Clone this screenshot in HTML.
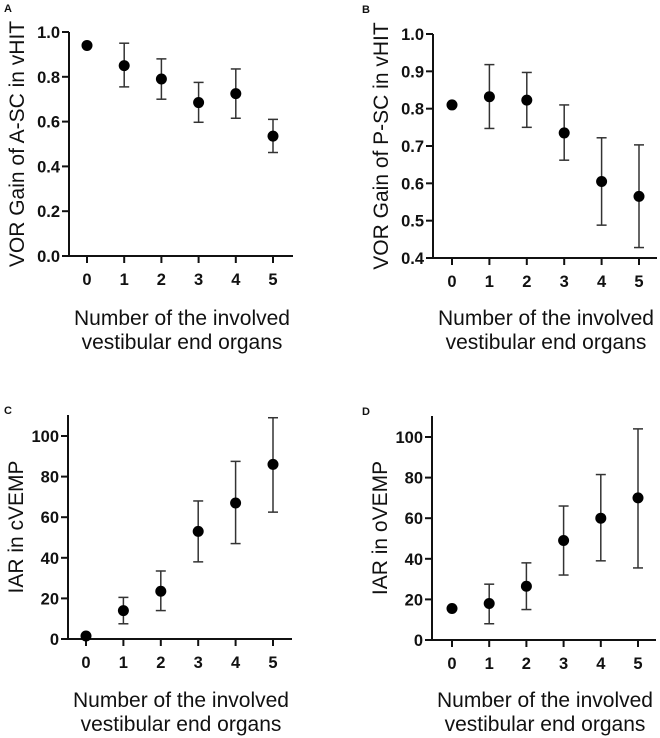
<!DOCTYPE html>
<html><head><meta charset="utf-8">
<style>
html,body{margin:0;padding:0;background:#fff;}
svg{display:block;font-family:"Liberation Sans",Arial,sans-serif;}
.tick{font-size:16.5px;font-weight:bold;fill:#111;}
.ttl{font-size:21px;fill:#111;}
.letter{font-size:11px;font-weight:bold;fill:#111;}
</style></head>
<body>
<svg id="fig" width="660" height="738" viewBox="0 0 660 738"></svg>
<script>
const categories = [0,1,2,3,4,5];
const meanA = [0.94,0.85,0.79,0.685,0.725,0.535];
const lowA  = [null,0.755,0.70,0.597,0.615,0.462];
const highA = [null,0.95,0.88,0.775,0.835,0.61];
const ticksA = [0,0.2,0.4,0.6,0.8,1.0];
const meanB = [0.81,0.832,0.823,0.735,0.605,0.565];
const lowB  = [null,0.747,0.75,0.662,0.488,0.428];
const highB = [null,0.918,0.897,0.81,0.722,0.703];
const ticksB = [0.4,0.5,0.6,0.7,0.8,0.9,1.0];
const meanC = [1.5,14,23.5,53,67,86];
const lowC  = [null,7.5,14,38,47,62.5];
const highC = [null,20.5,33.5,68,87.5,109];
const ticksC = [0,20,40,60,80,100];
const meanD = [15.5,18,26.5,49,60,70];
const lowD  = [null,8,15,32,39,35.5];
const highD = [null,27.5,38,66,81.5,104];
const ticksD = [0,20,40,60,80,100];

const NS="http://www.w3.org/2000/svg";
const svg=document.getElementById('fig');
function mk(tag,attrs,parent,text){const e=document.createElementNS(NS,tag);for(const k in attrs)e.setAttribute(k,attrs[k]);if(text!==undefined)e.textContent=text;(parent||svg).appendChild(e);return e;}

function panel(cfg){
  const g=mk('g',{});
  
  
  const y=v=>cfg.y0+(v-cfg.vmin)/(cfg.vmax-cfg.vmin)*(cfg.y1-cfg.y0);
  const x=i=>cfg.x0+(i)*(cfg.x5-cfg.x0)/5;
  const lt=mk('text',{x:cfg.lx,y:cfg.ly,class:'letter'},g,cfg.id.toUpperCase());
  
  
  const ya=mk('line',{x1:cfg.ax,y1:cfg.axTop,x2:cfg.ax,y2:y(cfg.vmin)+1,stroke:'#111','stroke-width':2},g);
  
  
  const xa=mk('line',{x1:cfg.ax-1,y1:y(cfg.vmin),x2:cfg.ax+224,y2:y(cfg.vmin),stroke:'#111','stroke-width':2},g);
  
  
  cfg.ticks.forEach(t=>{
    mk('line',{x1:cfg.ax-7,y1:y(t),x2:cfg.ax,y2:y(t),stroke:'#111','stroke-width':2},g);
    const tl=mk('text',{x:cfg.ax-9,y:y(t)+6,class:'tick','text-anchor':'end'},g,cfg.fmt(t));
    
    
  });
  categories.forEach((c,i)=>{
    mk('line',{x1:x(i),y1:y(cfg.vmin),x2:x(i),y2:y(cfg.vmin)+7,stroke:'#111','stroke-width':2},g);
    const tl=mk('text',{x:x(i),y:y(cfg.vmin)+29,class:'tick','text-anchor':'middle'},g,String(c));
    
    
    if(cfg.low[i]!==null){
      const eb=mk('g',{stroke:'#333','stroke-width':1.5},g);
      
      
      mk('line',{x1:x(i),y1:y(cfg.low[i]),x2:x(i),y2:y(cfg.high[i])},eb);
      mk('line',{x1:x(i)-5,y1:y(cfg.low[i]),x2:x(i)+5,y2:y(cfg.low[i])},eb);
      mk('line',{x1:x(i)-5,y1:y(cfg.high[i]),x2:x(i)+5,y2:y(cfg.high[i])},eb);
    }
    const p=mk('circle',{cx:x(i),cy:y(cfg.mean[i]),r:5.5,fill:'#000'},g);
    
    
  });
  const cx=cfg.ax+113;
  const t1=mk('text',{x:cx,y:cfg.tY,class:'ttl','text-anchor':'middle'},g,'Number of the involved');
  
  
  const t2=mk('text',{x:cx,y:cfg.tY+24,class:'ttl','text-anchor':'middle'},g,'vestibular end organs');
  
  
  const ym=(cfg.axTop+y(cfg.vmin))/2;
  const yt=mk('text',{x:0,y:0,class:'ttl','text-anchor':'middle',transform:`translate(${cfg.ax-45},${ym}) rotate(-90)`},g,cfg.ytitle);
  
  
}
const f1=t=>t.toFixed(1);
const f0=t=>String(t);
panel({id:'a',lx:4,ly:12,ax:69,axTop:32,y0:256,y1:32,vmin:0,vmax:1,x0:87,x5:273,ticks:ticksA,fmt:f1,mean:meanA,low:lowA,high:highA,tY:325,ytitle:'VOR Gain of A-SC in vHIT'});
panel({id:'b',lx:362,ly:13,ax:433,axTop:34,y0:258,y1:34,vmin:0.4,vmax:1,x0:452,x5:639,ticks:ticksB,fmt:f1,mean:meanB,low:lowB,high:highB,tY:325,ytitle:'VOR Gain of P-SC in vHIT'});
panel({id:'c',lx:4,ly:414,ax:68,axTop:415,y0:639,y1:436,vmin:0,vmax:100,x0:86,x5:273,ticks:ticksC,fmt:f0,mean:meanC,low:lowC,high:highC,tY:707,ytitle:'IAR in cVEMP'});
panel({id:'d',lx:362,ly:415,ax:432,axTop:416,y0:640,y1:437,vmin:0,vmax:100,x0:452,x5:638,ticks:ticksD,fmt:f0,mean:meanD,low:lowD,high:highD,tY:707,ytitle:'IAR in oVEMP'});
</script>
</body></html>
